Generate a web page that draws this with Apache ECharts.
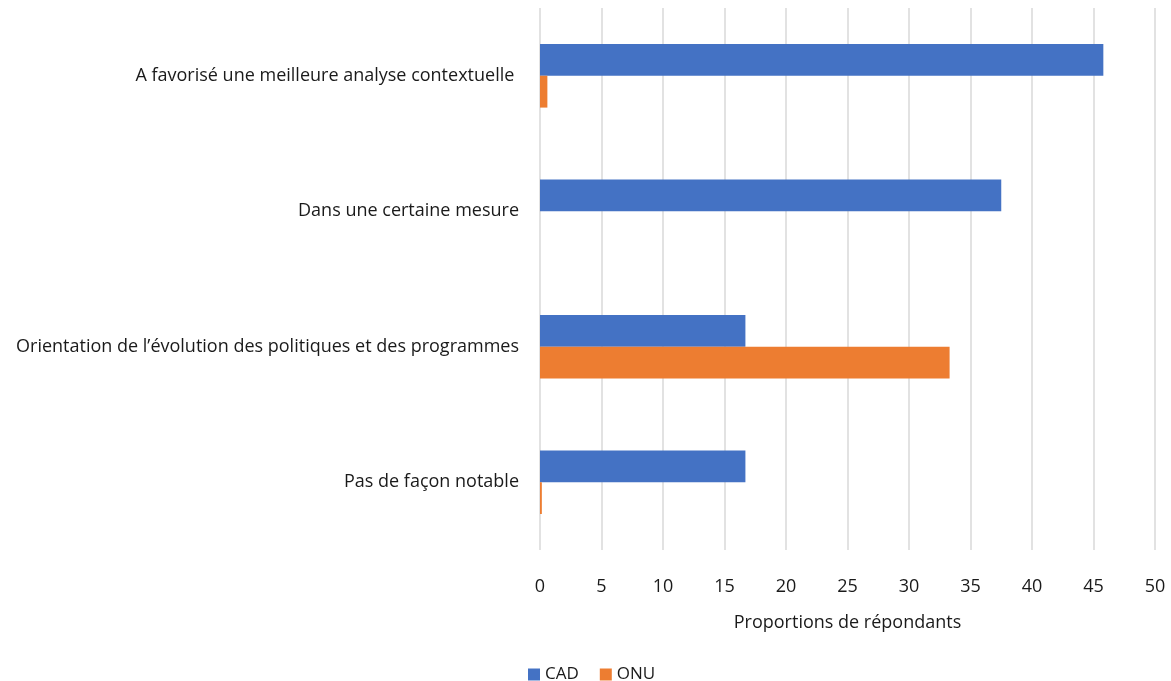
<!DOCTYPE html>
<html>
<head>
<meta charset="utf-8">
<script src="https://cdn.jsdelivr.net/npm/echarts@6/dist/echarts.min.js"></script>
<style>
  html, body { margin: 0; padding: 0; background: #fff; }
</style>
</head>
<body>
<div id="chart" style="width: 1171px; height: 681px;"></div>
<script>
// catégories (de haut en bas)
const categories = [
  'A favorisé une meilleure analyse contextuelle ',
  'Dans une certaine mesure',
  'Orientation de l\u2019évolution des politiques et des programmes',
  'Pas de façon notable'
];
const cadValues = [45.8, 37.5, 16.7, 16.7];
const onuValues = [0.6, 0, 33.3, 0.15];

const chart = echarts.init(document.getElementById('chart'));
const font = '"Open Sans", sans-serif';
const txt = '#1a1a1a';

chart.setOption({
  textStyle: { fontFamily: font },
  grid: { left: 540, right: 16, top: 8, bottom: 131, containLabel: false },
  legend: {
    data: ['CAD', 'ONU'],
    top: 661,
    left: 523,
    icon: 'rect',
    itemWidth: 12,
    itemHeight: 12,
    itemGap: 21,
    textStyle: { fontSize: 17, color: txt, fontFamily: font }
  },
  xAxis: {
    type: 'value',
    min: 0,
    max: 50,
    interval: 5,
    name: 'Proportions de répondants',
    nameLocation: 'middle',
    nameGap: 64,
    nameTextStyle: { fontSize: 18, color: txt, fontFamily: font },
    axisLine: { show: false },
    axisTick: { show: false },
    axisLabel: { fontSize: 18, color: txt, margin: 28, fontFamily: font },
    splitLine: { lineStyle: { color: '#d9d9d9', width: 1.5 } }
  },
  yAxis: {
    type: 'category',
    inverse: true,
    data: categories,
    axisLine: { show: false },
    axisTick: { show: false },
    axisLabel: { fontSize: 18, color: txt, margin: 21, fontFamily: font, padding: [5, 0, 0, 0] }
  },
  series: [
    {
      name: 'CAD',
      type: 'bar',
      data: cadValues,
      barGap: '0%',
      barCategoryGap: '53%',
      itemStyle: { color: '#4472C4' }
    },
    {
      name: 'ONU',
      type: 'bar',
      data: onuValues,
      barGap: '0%',
      barCategoryGap: '53%',
      itemStyle: { color: '#ED7D31' }
    }
  ]
});
</script>
</body>
</html>
